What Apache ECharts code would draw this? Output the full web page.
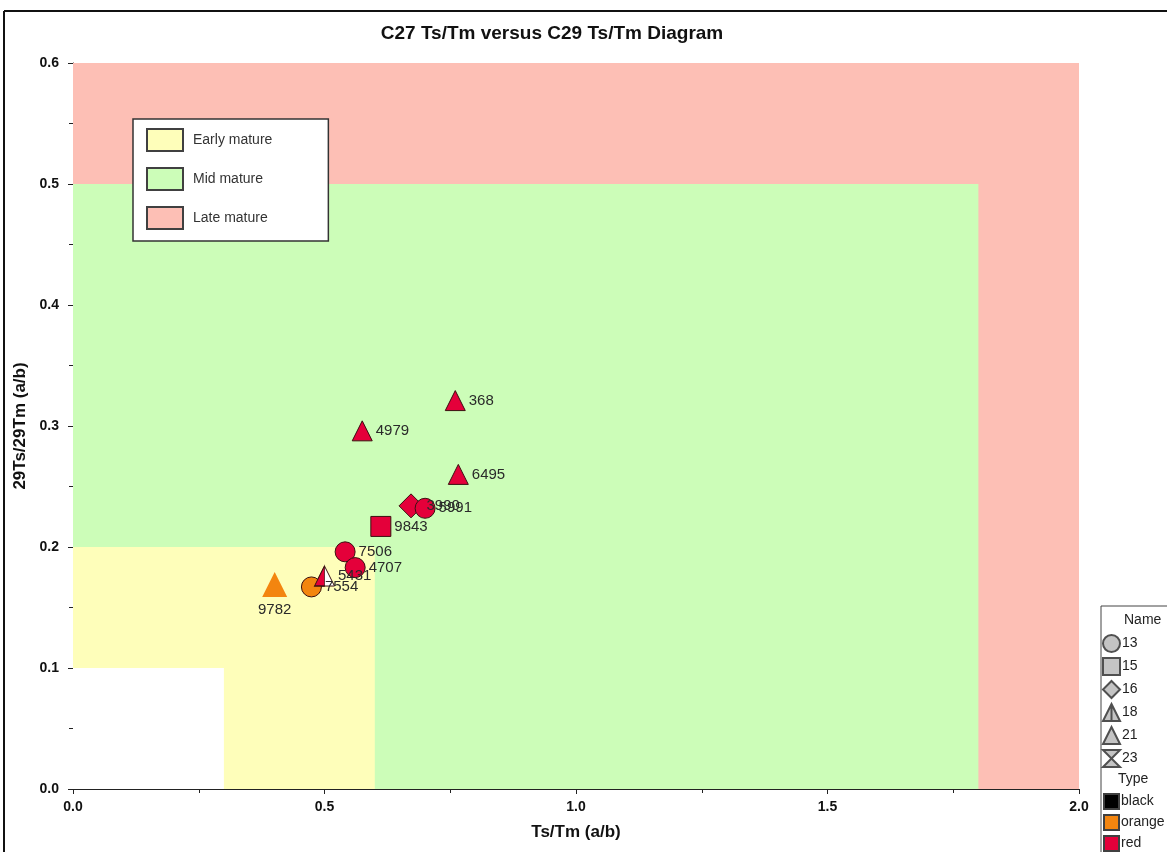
<!DOCTYPE html>
<html>
<head>
<meta charset="utf-8">
<title>C27 Ts/Tm versus C29 Ts/Tm Diagram</title>
<script src="https://cdn.jsdelivr.net/npm/echarts@6/dist/echarts.min.js"></script>
<style>
  html, body { margin: 0; padding: 0; background: #ffffff; }
  #chart { width: 1167px; height: 852px; }
</style>
</head>
<body>
<div id="chart"></div>
<script>
// Maturity zones (upper-right corner of each rectangle, all start at the origin)
const zoneNames = ['Early mature', 'Mid mature', 'Late mature'];
const zoneXMax = [0.6, 1.8, 2.0];
const zoneYMax = [0.2, 0.5, 0.6];
// Unclassified corner near the origin
const immatureXMax = 0.3;
const immatureYMax = 0.1;

// Samples: C27 Ts/Tm (x) and C29 Ts/Tm (y)
const sampleIds = ['368', '4979', '6495', '3990', '5991', '9843', '7506', '4707', '5431', '7554', '9782'];
const c27TsTm = [0.760, 0.575, 0.766, 0.672, 0.700, 0.612, 0.541, 0.561, 0.500, 0.474, 0.401];
const c29TsTm = [0.321, 0.296, 0.260, 0.234, 0.232, 0.217, 0.196, 0.183, 0.176, 0.167, 0.169];
const sampleName = ['21', '21', '21', '16', '13', '15', '13', '13', '18', '13', '21'];
const sampleType = ['red', 'red', 'red', 'red', 'red', 'red', 'red', 'red', 'red', 'orange', 'orange'];

// Legend categories
const nameCodes = ['13', '15', '16', '18', '21', '23'];
const typeCodes = ['black', 'orange', 'red'];

// Axis ticks
const xTicks = { min: 0, max: 2, step: 0.5 };
const yTicks = { min: 0, max: 0.6, step: 0.1 };

// ---- styling ----
const zoneColors = { 'Early mature': '#FEFEBA', 'Mid mature': '#CCFDB8', 'Late mature': '#FDBFB5' };
const typeColors = { black: '#000000', orange: '#F3850F', red: '#E4003A' };
const nameSymbols = {
  '13': 'circle',
  '15': 'rect',
  '16': 'diamond',
  '18': 'triangle',
  '21': 'triangle',
  '23': 'path://M0,0 L10,0 L0,10 L10,10 Z'
};
const legendSymbols = Object.assign({}, nameSymbols, {
  '18': 'path://M5,0 L10,10 L0,10 Z M5,0 L5,10'
});
const symbolSizes = { '13': 20, '15': 20, '16': 24, '18': 20, '21': 20, '23': 20 };
// Individually emphasised samples
const emphasis = { '9782': { size: 25, border: 0, label: 'bottom' } };

const markerBorder = '#3a1010';
const axisFont = '"Liberation Sans Narrow", "Liberation Sans", Arial, sans-serif';
const bodyFont = '"Liberation Sans", Arial, sans-serif';

const chart = echarts.init(document.getElementById('chart'), null, { renderer: 'canvas' });

// Zone series: each one only carries a rectangular markArea
const zoneSeries = zoneNames.slice().reverse().map(function (zn) {
  const i = zoneNames.indexOf(zn);
  return {
    name: zn,
    type: 'scatter',
    data: [],
    symbol: 'rect',
    itemStyle: { color: zoneColors[zn], borderColor: '#404040', borderWidth: 1, opacity: 1 },
    markArea: {
      silent: true,
      itemStyle: { color: zoneColors[zn], opacity: 1 },
      label: { show: false },
      data: [[{ xAxis: 0, yAxis: 0 }, { xAxis: zoneXMax[i], yAxis: zoneYMax[i] }]]
    },
    z: 1
  };
});
zoneSeries.push({
  name: 'unclassified',
  type: 'scatter',
  data: [],
  markArea: {
    silent: true,
    itemStyle: { color: '#FFFFFF', opacity: 1 },
    label: { show: false },
    data: [[{ xAxis: 0, yAxis: 0 }, { xAxis: immatureXMax, yAxis: immatureYMax }]]
  },
  z: 1
});

// Sample markers
const sampleData = sampleIds.map(function (id, i) {
  const code = sampleName[i];
  const em = emphasis[id] || {};
  const split = code === '18';
  return {
    name: id,
    value: [c27TsTm[i], c29TsTm[i]],
    symbol: nameSymbols[code],
    symbolSize: em.size || symbolSizes[code],
    itemStyle: {
      color: split ? '#FFFFFF' : typeColors[sampleType[i]],
      borderColor: em.border === 0 ? 'transparent' : markerBorder,
      borderWidth: em.border === 0 ? 0 : 1,
      opacity: 1
    },
    label: em.label ? { position: em.label, distance: 5 } : undefined
  };
});

// Left half of the split triangle (name code 18)
const splitData = [];
sampleIds.forEach(function (id, i) {
  if (sampleName[i] === '18') {
    splitData.push({
      name: id,
      value: [c27TsTm[i], c29TsTm[i]],
      itemStyle: { color: typeColors[sampleType[i]], opacity: 1 }
    });
  }
});

// Legend-only series for the Name / Type keys
const nameKeySeries = nameCodes.map(function (c) {
  return {
    name: c, type: 'scatter', data: [],
    symbol: legendSymbols[c],
    itemStyle: { color: '#C4C4C4', borderColor: '#505050', borderWidth: 1, opacity: 1 }
  };
});
const typeKeySeries = typeCodes.map(function (t) {
  return {
    name: t, type: 'scatter', data: [],
    symbol: 'rect',
    itemStyle: { color: typeColors[t], borderColor: '#404040', borderWidth: 1, opacity: 1 }
  };
});

const axisCommon = {
  axisLine: { show: true, onZero: false, lineStyle: { color: '#222', width: 1 } },
  axisTick: { show: true, length: 5, lineStyle: { color: '#222' } },
  minorTick: { show: true, splitNumber: 2, length: 4, lineStyle: { color: '#222' } },
  splitLine: { show: false }
};

const option = {
  backgroundColor: '#FFFFFF',
  animation: false,
  title: {
    text: 'C27 Ts/Tm versus C29 Ts/Tm Diagram',
    left: 547,
    top: 19,
    textAlign: 'center',
    textStyle: { fontFamily: axisFont, fontSize: 19, fontWeight: 'bold', color: '#111' }
  },
  grid: { left: 73, top: 63, width: 1006, height: 726, containLabel: false },
  xAxis: Object.assign({
    type: 'value',
    min: xTicks.min, max: xTicks.max, interval: xTicks.step,
    name: 'Ts/Tm (a/b)',
    nameLocation: 'middle',
    nameGap: 35,
    nameTextStyle: { fontFamily: axisFont, fontSize: 17, fontWeight: 'bold', color: '#111' },
    axisLabel: {
      fontFamily: axisFont, fontSize: 14, fontWeight: 'bold', color: '#111', margin: 11,
      formatter: function (v) { return v.toFixed(1); }
    }
  }, axisCommon),
  yAxis: Object.assign({
    type: 'value',
    min: yTicks.min, max: yTicks.max, interval: yTicks.step,
    name: '29Ts/29Tm (a/b)',
    nameLocation: 'middle',
    nameGap: 44,
    nameTextStyle: { fontFamily: axisFont, fontSize: 17, fontWeight: 'bold', color: '#111' },
    axisLabel: {
      fontFamily: axisFont, fontSize: 14, fontWeight: 'bold', color: '#111', margin: 14,
      formatter: function (v) { return v.toFixed(1); }
    }
  }, axisCommon),
  legend: [
    {
      data: zoneNames,
      orient: 'vertical',
      left: 133, top: 119,
      padding: [9, 56, 11, 13],
      itemWidth: 36, itemHeight: 22, itemGap: 15,
      icon: 'rect',
      selectedMode: false,
      backgroundColor: '#FFFFFF',
      borderColor: '#333333', borderWidth: 1.5,
      itemStyle: { opacity: 1 },
      textStyle: { fontFamily: bodyFont, fontSize: 14, color: '#333', padding: [0, 0, 0, 5] }
    },
    {
      data: nameCodes.map(function (c) { return { name: c, icon: legendSymbols[c] }; }),
      orient: 'vertical',
      left: 1102, top: 634,
      padding: 0,
      height: 140,
      itemWidth: 17, itemHeight: 17, itemGap: 4,
      selectedMode: false,
      itemStyle: { opacity: 1 },
      textStyle: { fontFamily: bodyFont, fontSize: 14, color: '#222', padding: [0, 0, 0, -3], lineHeight: 17 }
    },
    {
      data: typeCodes,
      orient: 'vertical',
      left: 1103, top: 793,
      padding: 0,
      height: 60,
      itemWidth: 15, itemHeight: 15, itemGap: 4,
      icon: 'rect',
      selectedMode: false,
      itemStyle: { opacity: 1 },
      textStyle: { fontFamily: bodyFont, fontSize: 14, color: '#222', padding: [0, 0, 0, -3], lineHeight: 15 }
    }
  ],
  graphic: [
    // Outer frame (top and left edges)
    { type: 'line', shape: { x1: 4, y1: 11, x2: 1167, y2: 11 }, style: { stroke: '#111', lineWidth: 2 }, z: 100 },
    { type: 'line', shape: { x1: 4, y1: 11, x2: 4, y2: 852 }, style: { stroke: '#111', lineWidth: 2 }, z: 100 },
    // Key box on the right
    { type: 'rect', shape: { x: 1101, y: 606, width: 80, height: 260 }, style: { fill: '#FFFFFF', stroke: '#444', lineWidth: 1 }, z: -1 },
    { type: 'text', left: 1124, top: 613, style: { text: 'Name', font: '14px ' + bodyFont, fill: '#222' }, z: 100 },
    { type: 'text', left: 1118, top: 772, style: { text: 'Type', font: '14px ' + bodyFont, fill: '#222' }, z: 100 }
  ],
  series: zoneSeries.concat([
    {
      name: 'samples',
      type: 'scatter',
      data: sampleData,
      z: 5,
      label: {
        show: true,
        position: 'right',
        distance: 3,
        formatter: '{b}',
        fontFamily: bodyFont,
        fontSize: 15,
        color: '#2a2a2a'
      },
      labelLayout: { hideOverlap: false }
    },
    {
      name: 'split',
      type: 'scatter',
      data: splitData,
      symbol: 'path://M10,0 L10,20 L0,20 Z',
      symbolSize: [10, 20],
      symbolOffset: [-5, 0],
      itemStyle: { borderColor: markerBorder, borderWidth: 1, opacity: 1 },
      z: 6
    }
  ]).concat(nameKeySeries).concat(typeKeySeries)
};

chart.setOption(option);
</script>
</body>
</html>
